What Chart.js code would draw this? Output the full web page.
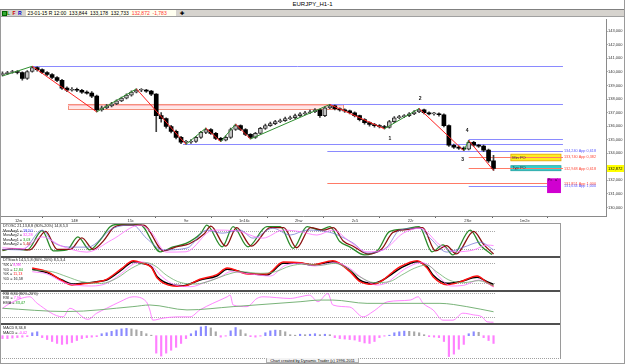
<!DOCTYPE html>
<html>
<head>
<meta charset="utf-8">
<script src="https://cdn.jsdelivr.net/npm/chart.js@4.4.0/dist/chart.umd.min.js"></script>
<style>
  body { margin: 0; width: 625px; height: 364px; position: relative; overflow: hidden; background: #fff;
         font-family: "Liberation Sans", Arial, sans-serif; }
  .abs { position: absolute; }
  #title { left: 0; top: 0; width: 625px; height: 9px; font-size: 6px; line-height: 9px; text-align: center; color: #000; }
  #titleLine { left: 0; top: 9px; width: 625px; height: 1px; background: #808080; }
  #bar { left: 0; top: 10px; width: 625px; height: 6px; background: #d6d3ce; border-bottom: 1px solid #a0a0a0; }
  #bar span { position: absolute; top: 0; font-size: 5px; line-height: 6px; }
  #info { left: 26px; width: 150px; height: 6px; background: #fffff0; }
  #info i { font-style: normal; }
  .sep { left: 0; width: 561px; height: 2px; background: #505050; }
  #frameL { left: 0; top: 10px; width: 1px; height: 354px; background: #9a9a9a; }
  #frameR { right: 0; top: 0; width: 1px; height: 364px; background: #9a9a9a; }
  #frameB { left: 0; top: 363px; width: 625px; height: 1px; background: #9a9a9a; }
  #panelR { left: 560px; top: 223px; width: 1px; height: 136px; background: #9a9a9a; }
  #panelT { left: 0; top: 223px; width: 561px; height: 1px; background: #9a9a9a; }
  #panelB { left: 0; top: 358px; width: 561px; height: 0; border-top: 1px dotted #a0a0a0; }
  #footer { left: 266px; top: 358px; width: 93px; height: 5px; font-size: 4px; line-height: 5px; text-align: center;
            white-space: nowrap; overflow: visible; color: #000; border: 1px solid #b0b0b0; border-top: none;
            background: #f4f4f4; box-sizing: border-box; }
  canvas { position: absolute; left: 0; }
</style>
</head>
<body>
<div id="title" class="abs">EURJPY_H1-1</div>
<div id="titleLine" class="abs"></div>
<div id="bar" class="abs">
  <span style="left:2px;top:1px;width:3px;height:3px;background:#3a3;border:0.5px solid #060"></span>
  <span style="left:7px;color:#080;font-weight:bold">L</span>
  <span style="left:12.5px;color:#c00;font-weight:bold">F</span>
  <span style="left:18px;color:#00c;font-weight:bold">R</span>
  <span id="info">&nbsp;23-01-15 R 12:00 &nbsp;133,844 &nbsp;133,178 &nbsp;132,733 &nbsp;<i style="color:#f33">132,872</i> &nbsp;<i style="color:#f33">-1,783</i></span>
  <span style="left:180px;color:#000;font-weight:bold">&#10010;</span>
</div>

<canvas id="price" width="625" height="206" style="top:17px"></canvas>
<div id="panelT" class="abs"></div>
<canvas id="osc" width="561" height="32" style="top:224px"></canvas>
<div class="abs sep" style="top:256px"></div>
<canvas id="stoch" width="561" height="32" style="top:258px"></canvas>
<div class="abs sep" style="top:290px"></div>
<canvas id="rsi" width="561" height="31" style="top:292px"></canvas>
<div class="abs sep" style="top:323px"></div>
<canvas id="macd" width="561" height="33" style="top:325px"></canvas>
<div id="panelB" class="abs"></div>
<div id="panelR" class="abs"></div>
<div id="footer" class="abs">Chart created by Dynamic Trader (c) 1996-2011</div>
<div id="frameL" class="abs"></div>
<div id="frameR" class="abs"></div>
<div id="frameB" class="abs"></div>

<script>
// ---- price data (EURJPY H1, sampled bars) ----
const firstOpen = 139.80;
const closes = [139.88,139.96,140.03,139.96,139.52,140.03,140.32,140.17,139.96,139.81,
  139.59,139.38,138.80,138.65,138.72,138.65,138.51,138.43,138.22,137.20,
  137.35,137.49,137.64,137.86,138.07,138.29,138.51,138.65,138.65,138.58,
  138.36,136.77,136.55,135.97,135.61,135.17,134.81,134.81,134.88,135.17,
  135.54,135.75,135.46,135.10,134.96,135.17,135.75,136.04,135.75,135.39,
  135.17,135.46,135.83,136.04,136.19,136.33,136.41,136.55,136.62,136.77,
  136.91,136.99,137.06,137.20,136.77,137.35,137.49,137.28,137.20,137.13,
  136.99,136.77,136.48,136.26,136.12,136.04,135.97,135.90,136.33,136.62,
  136.70,136.77,136.91,137.06,137.20,136.99,136.91,136.91,136.84,136.04,
  134.59,134.45,134.38,134.30,134.81,134.59,134.52,134.23,133.43,132.87];
const highs = [140.00,140.05,140.12,140.10,140.00,140.10,140.42,140.38,140.22,140.02,
  139.88,139.66,139.45,138.90,138.85,138.80,138.72,138.60,138.55,138.30,
  137.48,137.60,137.75,137.95,138.15,138.38,138.60,138.75,138.78,138.72,
  138.64,138.40,137.00,136.62,136.05,135.70,135.25,134.95,135.00,135.25,
  135.62,135.85,135.82,135.55,135.18,135.28,135.85,136.15,136.10,135.82,
  135.45,135.55,135.92,136.15,136.30,136.42,136.52,136.66,136.75,136.88,
  137.00,137.10,137.18,137.30,137.25,137.45,137.60,137.55,137.35,137.28,
  137.18,137.05,136.82,136.55,136.32,136.20,136.12,136.05,136.42,136.70,
  136.80,136.86,137.00,137.15,137.30,137.25,137.05,137.02,136.98,136.90,
  136.10,134.68,134.55,134.48,134.95,134.88,134.66,134.60,134.30,133.84];
const lows = [139.70,139.80,139.90,139.85,139.40,139.45,139.98,140.05,139.88,139.72,
  139.50,139.28,138.70,138.55,138.58,138.55,138.42,138.35,138.10,137.05,
  137.10,137.28,137.42,137.58,137.80,138.00,138.22,138.45,138.55,138.48,
  138.25,135.60,136.30,135.85,135.50,135.05,134.70,134.66,134.72,134.80,
  135.10,135.45,135.38,135.00,134.86,134.90,135.10,135.68,135.66,135.30,
  135.05,135.10,135.40,135.76,135.98,136.10,136.26,136.34,136.48,136.55,
  136.70,136.84,136.92,137.00,136.65,136.70,137.28,137.20,137.10,137.02,
  136.90,136.68,136.38,136.15,136.00,135.92,135.86,135.80,135.85,136.25,
  136.55,136.62,136.70,136.85,137.00,136.90,136.82,136.80,136.74,135.95,
  134.50,134.35,134.28,134.18,134.25,134.50,134.42,134.12,133.32,132.73];

// swing zigzag
const zzIdx = [0, 6, 19, 27, 37, 41, 44, 47, 50, 66, 77, 84, 93, 94, 99];
const zzPrice = [139.70, 140.42, 137.05, 138.75, 134.66, 135.85, 134.86, 136.15, 135.05, 137.60, 135.80, 137.30, 134.18, 134.95, 132.73];
const waveNames = ["1", "2", "3", "4"];
const waveIdx = [78.1, 84.2, 92.8, 93.7];
const wavePrice = [135.11, 138.0, 133.56, 135.69];

// axis ticks
const priceTicks = [130, 131, 132, 134, 135, 136, 137, 138, 139, 140, 141, 142, 143];
const dateTickIdx = [2.5, 13.8, 25.2, 36.6, 47.7, 59, 70.4, 81.7, 93.1, 104.3];
const dateLabels = ["12w", "14E", "15c", "9e", "1n16c", "2hw", "2c5", "22r", "2Se", "1m2e"];
const lastPrice = 132.872;

// levels and zones
const levelPrices = [140.47, 137.62, 134.65, 135.02, 134.17, 133.73, 132.91, 131.79, 131.60];
const levelFrom = [6, 66, 36.4, 94, 65.5, 94, 94, 65.5, 94];
const levelTo = [113, 113, 113, 113, 113, 113, 113, 109.8, 109.8];
const levelIsRed = [false, false, false, false, false, true, true, true, false];
const levelText = ["", "", "", "", "134,240 App 0,618", "133,740 App 0,382", "132,948 App 0,618", "131,851 App 1,000", "131,634 App 1,000"];
const pinkZone = [13.2, 68.6, 137.27, 137.64];
const minPO = [102.5, 112.6, 133.44, 133.93];
const typPO = [102.5, 112.6, 132.71, 133.08];
const poBox = [109.8, 112.6, 131.06, 132.15];

// DTOSC
const oscFast = [[0,16],[2,22],[5,18],[8,80],[10.2,15],[13,18],[15.2,60],[17.6,18],[19.7,50],[21.7,93],[23,100],[27.7,100],[31.8,12],[34.4,28],[37,39],[40,72],[41.2,98],[44.3,28],[46.5,93],[49.5,28],[53.3,93],[56,93],[58.6,23],[61.4,93],[64,82],[66,93],[68,45],[70,28],[73,2],[75.7,18],[78,77],[81,85],[84,93],[86.6,12],[88.8,34],[90.8,2],[94.3,82],[96.3,34],[98.7,3]];
const oscSignal = [[0,18],[2.7,22],[5.5,18],[8.7,78],[11,20],[13.7,20],[16,57],[18.3,20],[20.4,48],[22.4,90],[24,98],[28.4,98],[32.5,15],[35,28],[37.7,38],[40.7,70],[42,95],[45,30],[47.2,90],[50.2,30],[54,90],[56.7,90],[59.3,25],[62.1,90],[64.7,82],[66.7,90],[68.7,47],[70.7,30],[73.7,5],[76.4,20],[78.7,74],[81.7,84],[84.7,90],[87.3,15],[89.5,32],[91.5,5],[95,78],[97,36],[99,5]];
const oscAvg1 = [[0,20],[4,18],[8,82],[10.2,43],[14.2,27],[17.2,27],[22.3,88],[26.3,98],[29,56],[32.4,18],[37.2,24],[41.2,82],[44.3,72],[47.9,82],[50.5,56],[54.5,88],[58,66],[61.4,82],[64,80],[66.6,72],[70.7,40],[73.5,8],[77.5,27],[80.1,82],[84,88],[86.2,56],[89.6,11],[93,27],[96.3,43],[99,18]];
const oscAvg2 = [[0,25],[4,22],[8,60],[12,30],[17,11],[22,50],[27.7,98],[30,75],[33,11],[37,12],[42.5,82],[47,80],[52.5,56],[56.6,82],[60,77],[63.4,66],[66.6,82],[70,45],[73.5,12],[76.8,18],[80.8,72],[84.2,88],[88.2,34],[91.6,12],[95,18],[97.7,34],[99,32]];

// DTStoch
const stK1 = [[6,62],[9,52],[12,30],[14,18],[16,20],[19,25],[21,30],[24,60],[26.4,85],[28,80],[30,70],[31.2,40],[34.4,15],[36.4,13],[39.8,30],[43.2,42],[45.3,62],[49.5,50],[53.3,45],[56.6,80],[60,80],[62.6,75],[66.6,85],[70,60],[72,30],[74.7,20],[76.7,30],[78.7,50],[80.2,65],[83.6,85],[85.6,70],[86.8,45],[89.6,20],[92.2,25],[95.7,38],[97.7,25],[99,17]];
const stK2 = [[6,66],[9,55],[12,28],[14,15],[16,18],[19,24],[21,32],[24,64],[26.4,88],[28,82],[30,68],[31.2,36],[34.4,12],[36.4,11],[39.8,32],[43.2,46],[45.3,66],[49.5,48],[53.3,48],[56.6,84],[60,82],[62.6,76],[66.6,88],[70,56],[72,26],[74.7,17],[76.7,30],[78.7,54],[80.2,70],[83.6,88],[85.6,66],[86.8,40],[89.6,16],[92.2,24],[95.7,42],[97.7,22],[99,11]];
const stD1 = [[6,55],[9,48],[12,25],[15,14],[18,12],[21,20],[24,50],[26.4,78],[28,84],[30,75],[32,42],[35,14],[38,10],[41,24],[44,40],[46,55],[50,48],[54,42],[57,74],[60,80],[63,72],[67,82],[70,65],[72.5,36],[75.5,15],[77.5,22],[79.5,45],[81,62],[84.5,82],[86.5,68],[88,40],[90.5,12],[93,14],[96,30],[98,18],[99,9]];
const stD2 = [[6,60],[10,55],[13,40],[16,25],[20,20],[23,35],[26,65],[29,82],[31,70],[33,45],[36,22],[39,18],[42,28],[45,45],[48,55],[52,50],[55,55],[58,72],[61,78],[64,74],[67,80],[69.5,65],[72,40],[75,22],[78,25],[80.5,45],[83,65],[85.5,75],[87.5,55],[90,30],[93,22],[96,28],[99,13]];

// RSI
const rsiLine = [[0,42],[1.5,54],[5.5,70],[7,54],[12.2,21],[13.6,42],[17.2,15],[19,30],[21,42],[23.7,58],[26.3,70],[29,58],[29.7,38],[30.3,13],[32.4,18],[35.2,21],[37.8,21],[39.8,38],[42.4,54],[45.3,70],[45.9,74],[46.5,50],[49.3,46],[51.3,66],[52.5,70],[58,66],[60,70],[61.9,74],[63.6,58],[65.6,78],[66.6,50],[70,45],[72.7,21],[74.7,34],[77.7,58],[82.2,62],[83.8,70],[84.8,54],[86.8,38],[88.8,13],[90.8,13],[92.8,30],[94.9,26],[96.7,21],[97.7,9],[99,8]];
const rsiEma = [[0,42],[13,34],[26.3,46],[29.7,50],[37.2,38],[46.5,46],[60,58],[64,62],[66.6,62],[73.5,54],[88.2,54],[93.6,46],[99,33.5]];

// MACD histogram, one per bar
const macdHist = [-0.03,-0.03,-0.025,-0.02,-0.015,-0.01,0.03,0.04,-0.02,-0.04,
  -0.06,-0.08,-0.09,-0.085,-0.07,-0.05,-0.03,-0.02,-0.015,-0.01,
  0.02,0.03,0.045,0.06,0.07,0.075,0.07,0.06,0.045,0.02,
  0.005,-0.18,-0.21,-0.18,-0.15,-0.12,-0.08,-0.03,0.02,0.05,
  0.09,0.097,0.08,0.04,-0.015,-0.005,0.05,0.084,0.06,0.02,
  -0.01,-0.015,-0.005,0.03,0.05,0.057,0.055,0.04,0.01,0.005,
  0.015,0.01,0.015,0.02,0.01,0.015,0.01,-0.02,-0.03,-0.035,
  -0.04,-0.045,-0.06,-0.075,-0.08,-0.06,-0.02,-0.005,0.005,0.03,
  0.04,0.047,0.045,0.04,0.03,0.01,-0.01,-0.015,-0.02,-0.06,
  -0.215,-0.19,-0.14,-0.09,0.02,0.04,0.035,-0.02,-0.05,-0.08];

// ---- helpers ----
const FONT = '"Liberation Sans", Arial, sans-serif';
const fmt = v => v.toFixed(3).replace('.', ',');
const pts = arr => arr.map(p => ({ x: p[0], y: p[1] }));
const BLUE = '#8a8aff', RED = '#ff7a66';

function drawParts(ctx, x, y, parts, size) {
  ctx.font = size + 'px ' + FONT;
  ctx.textBaseline = 'middle';
  ctx.textAlign = 'left';
  parts.forEach(([t, c]) => { ctx.fillStyle = c; ctx.fillText(t, x, y); x += ctx.measureText(t).width; });
}

// ---- price chart ----
const opens = closes.map((c, i) => i === 0 ? firstOpen : closes[i - 1]);
const isUp = closes.map((c, i) => c >= opens[i]);

const priceOverlay = {
  id: 'priceOverlay',
  beforeDatasetsDraw(chart) {
    const { ctx, scales: { x, y } } = chart;
    ctx.save();
    // pink resistance zone
    let x0 = x.getPixelForValue(pinkZone[0]), x1 = x.getPixelForValue(pinkZone[1]);
    let y0 = y.getPixelForValue(pinkZone[3]), y1 = y.getPixelForValue(pinkZone[2]);
    ctx.fillStyle = '#ffe6e6';
    ctx.fillRect(x0, y0, x1 - x0, y1 - y0);
    ctx.strokeStyle = '#f4907c'; ctx.lineWidth = 1;
    ctx.strokeRect(Math.round(x0) + 0.5, Math.round(y0) + 0.5, Math.round(x1 - x0), Math.round(y1 - y0));
    ctx.strokeStyle = '#ffb8c0';
    ctx.beginPath(); ctx.moveTo(x0, Math.round(y0) + 1.5); ctx.lineTo(x1, Math.round(y0) + 1.5); ctx.stroke();

    // projection boxes
    const box = (b, fill, stroke) => {
      const bx0 = x.getPixelForValue(b[0]), bx1 = x.getPixelForValue(b[1]);
      const by0 = y.getPixelForValue(b[3]), by1 = y.getPixelForValue(b[2]);
      ctx.fillStyle = fill; ctx.fillRect(bx0, by0, bx1 - bx0, by1 - by0);
      if (stroke) { ctx.strokeStyle = stroke; ctx.lineWidth = 0.8; ctx.strokeRect(bx0, by0, bx1 - bx0, by1 - by0); }
    };
    box(minPO, '#ffee22', '#e0a000');
    box(typPO, '#33d0d0', '#20a0a0');
    box(poBox, '#d000d0', null);

    // level lines
    levelPrices.forEach((p, i) => {
      const py = Math.round(y.getPixelForValue(p)) + 0.5;
      ctx.strokeStyle = levelIsRed[i] ? RED : BLUE;
      ctx.lineWidth = 1;
      ctx.beginPath();
      ctx.moveTo(x.getPixelForValue(levelFrom[i]), py);
      ctx.lineTo(x.getPixelForValue(levelTo[i]), py);
      ctx.stroke();
    });
    ctx.restore();
  },
  afterDraw(chart) {
    const { ctx, scales: { x, y } } = chart;
    ctx.save();
    levelPrices.forEach((p, i) => {
      if (!levelText[i]) return;
      drawParts(ctx, x.getPixelForValue(113) + 1, y.getPixelForValue(p) + 0.5, [[levelText[i], levelIsRed[i] ? '#ff4a3a' : '#5a5aff']], 3.8);
    });
    drawParts(ctx, x.getPixelForValue(minPO[0]) + 1.5, y.getPixelForValue((minPO[2] + minPO[3]) / 2), [['Min PO', '#333']], 4);
    drawParts(ctx, x.getPixelForValue(typPO[0]) + 1.5, y.getPixelForValue((typPO[2] + typPO[3]) / 2), [['Typ PO', '#333']], 4);
    drawParts(ctx, x.getPixelForValue(poBox[0]) + 1, y.getPixelForValue(poBox[3]) + 2, [['Pc   a\'', '#300030']], 3.5);

    ctx.font = 'bold 5px ' + FONT;
    ctx.fillStyle = '#111'; ctx.textAlign = 'center'; ctx.textBaseline = 'middle';
    waveNames.forEach((n, i) => ctx.fillText(n, x.getPixelForValue(waveIdx[i]), y.getPixelForValue(wavePrice[i])));

    // current price tag on the axis
    const ty = y.getPixelForValue(lastPrice);
    ctx.fillStyle = '#ffff00';
    ctx.fillRect(x.right + 1, ty - 3.5, 18, 7);
    drawParts(ctx, x.right + 2, ty, [[fmt(lastPrice), '#000']], 4);
    ctx.restore();
  }
};

new Chart(document.getElementById('price'), {
  type: 'bar',
  data: {
    datasets: [
      {
        type: 'line', order: 0,
        data: zzIdx.map((v, i) => ({ x: v, y: zzPrice[i] })),
        borderWidth: 1, pointRadius: 0, tension: 0,
        segment: { borderColor: c => c.p1.parsed.y > c.p0.parsed.y ? '#2f8f2f' : '#ff2020' }
      },
      {
        order: 1, grouped: false, barThickness: 4, minBarLength: 1,
        data: closes.map((c, i) => ({ x: i, y: [opens[i], c] })),
        backgroundColor: isUp.map(u => u ? '#c4c4c4' : '#000000'),
        borderColor: '#303030',
        borderWidth: isUp.map(u => u ? 1 : 0),
        borderSkipped: false
      },
      {
        order: 2, grouped: false, barThickness: 1,
        data: closes.map((c, i) => ({ x: i, y: [lows[i], highs[i]] })),
        backgroundColor: '#404040'
      }
    ]
  },
  options: {
    responsive: false, devicePixelRatio: 1, animation: false,
    layout: { padding: 0 },
    plugins: { legend: { display: false }, tooltip: { enabled: false } },
    scales: {
      x: {
        type: 'linear', min: -0.5, max: 121.68, offset: false,
        afterFit: s => { s.height = 6.5; },
        afterBuildTicks: s => { s.ticks = dateTickIdx.map(v => ({ value: v })); },
        grid: { drawOnChartArea: false, drawTicks: true, tickLength: 1.5, color: '#666' },
        border: { color: '#8a8a8a' },
        ticks: { callback: (v, i) => dateLabels[i], autoSkip: false, maxRotation: 0, align: 'start', padding: 0,
                 color: '#333', font: { size: 4, family: FONT } }
      },
      y: {
        position: 'right', min: 129.33, max: 143.84,
        afterFit: s => { s.width = 19; },
        afterBuildTicks: s => { s.ticks = priceTicks.map(v => ({ value: v })); },
        grid: { drawOnChartArea: false, tickLength: 1.5, color: '#666' },
        border: { color: '#8a8a8a' },
        ticks: { callback: v => fmt(v), padding: 0.5, color: '#333', font: { size: 4, family: FONT } }
      }
    }
  },
  plugins: [priceOverlay]
});

// ---- indicator panels ----
const PANEL_MAX = 112.6;

function panelPlugin(levels, texts) {
  return {
    id: 'panel',
    beforeDatasetsDraw(chart) {
      const { ctx, scales: { x, y } } = chart;
      ctx.save();
      ctx.strokeStyle = '#a8a8a8'; ctx.lineWidth = 1; ctx.setLineDash([1, 1]);
      levels.forEach(l => {
        const py = Math.round(y.getPixelForValue(l)) + 0.5;
        ctx.beginPath(); ctx.moveTo(x.getPixelForValue(-0.5), py); ctx.lineTo(x.getPixelForValue(99.5), py); ctx.stroke();
      });
      ctx.restore();
    },
    afterDraw(chart) {
      const { ctx } = chart;
      ctx.save();
      texts.forEach(t => drawParts(ctx, t[0], t[1], t[2], 3.8));
      ctx.restore();
    }
  };
}

function lineSet(arr, color, width) {
  return { data: pts(arr), borderColor: color, borderWidth: width, pointRadius: 0, tension: 0.4, cubicInterpolationMode: 'monotone' };
}

function panelOptions(min, max) {
  return {
    responsive: false, devicePixelRatio: 1, animation: false,
    layout: { padding: 0 },
    plugins: { legend: { display: false }, tooltip: { enabled: false } },
    scales: {
      x: { type: 'linear', min: -0.5, max: PANEL_MAX, display: false, offset: false },
      y: { min: min, max: max, display: false }
    }
  };
}

new Chart(document.getElementById('osc'), {
  type: 'line',
  data: { datasets: [
    lineSet(oscAvg2, '#ff70ff', 0.8),
    lineSet(oscAvg1, '#6a6ad0', 0.7),
    lineSet(oscSignal, '#8b1010', 1.3),
    lineSet(oscFast, '#2a8a2a', 1.3)
  ] },
  options: panelOptions(-1.6, 101.6),
  plugins: [panelPlugin([80, 20], [
    [3, 2.2, [['DTOSC 21,13,8,8 (80%-20%) 14,8,5,3', '#222']]],
    [3, 6.6, [['MovAvg1 = ', '#222'], ['18,50', '#3333ff']]],
    [3, 11.2, [['MovAvg2 = ', '#222'], ['32,28', '#ff33ff']]],
    [3, 15.8, [['MovAvg1 = ', '#222'], ['3,03', '#119911']]],
    [3, 20.4, [['MovAvg2 = ', '#222'], ['5,46', '#cc1111']]]
  ])]
});

new Chart(document.getElementById('stoch'), {
  type: 'line',
  data: { datasets: [
    lineSet(stD2, '#70b070', 0.8),
    lineSet(stD1, '#ff70ff', 0.8),
    lineSet(stK2, '#ff1010', 1.5),
    lineSet(stK1, '#000000', 1.5)
  ] },
  options: panelOptions(0, 96),
  plugins: [panelPlugin([80, 20], [
    [3, 2.4, [['DTStoch 14,5,5,8 (80%-20%) 8,5,3,4', '#222']]],
    [3, 6.9, [['%K = ', '#222'], ['8,88', '#ff33ff']]],
    [3, 11.5, [['%D = ', '#222'], ['12,84', '#119911']]],
    [3, 16.1, [['%K = ', '#222'], ['11,13', '#ff2222']]],
    [3, 20.7, [['%D = ', '#222'], ['16,58', '#222']]]
  ])]
});

new Chart(document.getElementById('rsi'), {
  type: 'line',
  data: { datasets: [
    lineSet(rsiEma, '#6aaa6a', 0.9),
    lineSet(rsiLine, '#ff66ff', 0.8)
  ] },
  options: panelOptions(6.1, 81.7),
  plugins: [panelPlugin([80, 20], [
    [3, 1.8, [['RSI 8,80 (80%-20%)', '#222']]],
    [3, 6.3, [['RSI = ', '#222'], ['7,96', '#ff33ff']]],
    [3, 10.8, [['EMA = ', '#222'], ['33,47', '#119911']]]
  ])]
});

new Chart(document.getElementById('macd'), {
  type: 'bar',
  data: { datasets: [{
    data: macdHist.map((v, i) => ({ x: i, y: v })),
    barThickness: 1.5,
    backgroundColor: macdHist.map((v, i) => v < 0 ? '#ff80ff' : (i > 0 && v < macdHist[i - 1] ? '#a8a8a8' : '#8a8aff'))
  }] },
  options: panelOptions(-0.23, 0.11),
  plugins: [panelPlugin([], [
    [3, 3.3, [['MACD 8,34,8', '#222']]],
    [3, 7.6, [['MACD = ', '#222'], ['-0,02', '#ff33ff']]]
  ])]
});
</script>
</body>
</html>
